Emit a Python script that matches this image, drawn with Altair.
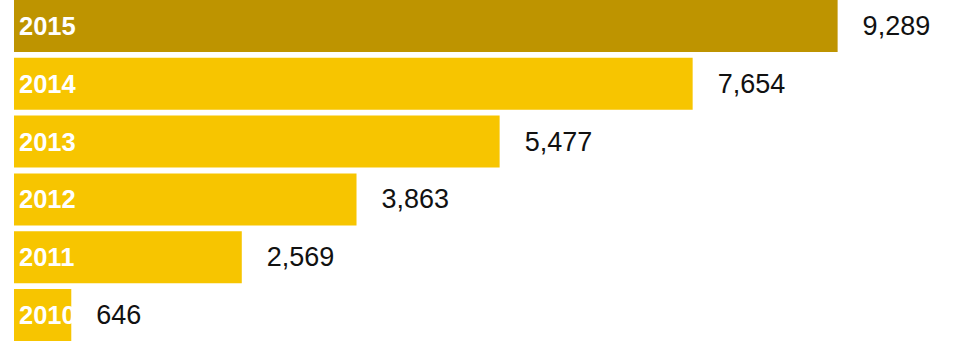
import altair as alt
import pandas as pd

years = ["2015", "2014", "2013", "2012", "2011", "2010"]
values = [9289, 7654, 5477, 3863, 2569, 646]
highlight = ["yes", "no", "no", "no", "no", "no"]
color_domain = ["yes", "no"]
color_range = ["#BE9400", "#F7C500"]

df = pd.DataFrame({"year": years, "value": values, "hl": highlight})

y_enc = alt.Y("year:N", sort=years, axis=None,
              scale=alt.Scale(paddingInner=0.1, paddingOuter=0))

bars = alt.Chart(df).mark_bar().encode(
    x=alt.X("value:Q", axis=None, scale=alt.Scale(domain=[0, 10500], nice=False)),
    y=y_enc,
    color=alt.Color("hl:N", scale=alt.Scale(domain=color_domain, range=color_range), legend=None),
)

year_labels = alt.Chart(df).mark_text(
    align="left", baseline="middle", color="white", font="Liberation Sans",
    fontWeight="bold", fontSize=25.5, dx=5, dy=1,
).encode(
    x=alt.value(0),
    y=y_enc,
    text="year:N",
)

value_labels = alt.Chart(df).mark_text(
    align="left", baseline="middle", color="#111111", font="Liberation Sans",
    fontSize=27, dx=25, dy=1,
).encode(
    x=alt.X("value:Q"),
    y=y_enc,
    text=alt.Text("value:Q", format=","),
)

chart = alt.layer(bars, year_labels, value_labels).properties(
    width=931, height=341,
    padding={"left": 14, "right": 10, "top": 0, "bottom": 0},
).configure_view(stroke=None)

chart.save("out.html", embed_options={"renderer": "svg", "actions": False})
